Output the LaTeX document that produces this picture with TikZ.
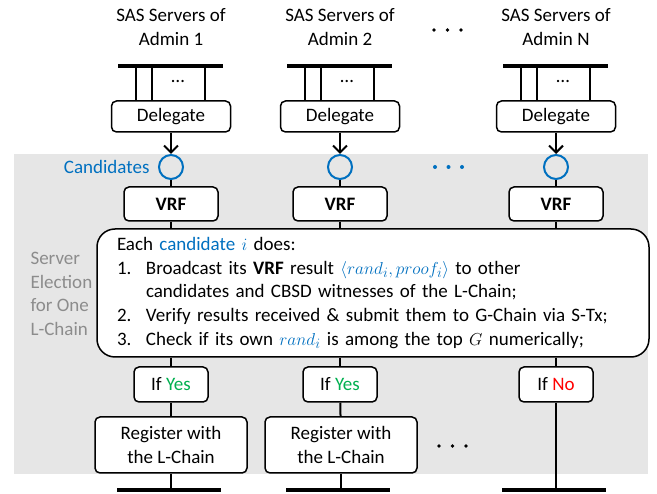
\documentclass[tikz,border=0pt]{standalone}
\usepackage{fontspec}
\setmainfont{Carlito}
\usepackage{amsmath}
\usetikzlibrary{
  positioning,
  arrows.meta
}
\definecolor{candblue}{RGB}{0,112,192}
\definecolor{yesgreen}{RGB}{0,176,80}
\definecolor{nored}{RGB}{255,0,0}
\definecolor{bggray}{RGB}{230,230,230}
\definecolor{sidegray}{RGB}{140,140,140}

\begin{document}
\begin{tikzpicture}[x=1pt, y=-1pt,
  every node/.style = {font=\fontsize{19}{23.7}\selectfont},
  box/.style = {shape=rectangle, rounded corners=5pt, draw,
    line width=1.5pt, fill=white, inner sep=0pt, align=center},
  bus/.style = {line width=4pt},
  wire/.style = {line width=2pt},
  cand/.style = {shape=circle, draw=candblue, line width=2pt,
    minimum size=24pt, inner sep=0pt}]
  \useasboundingbox (0,0) rectangle (657,494);
  \fill[bggray] (14,154) rectangle (648,474);

  % election box
  \node[box, rounded corners=18pt, minimum width=552pt, minimum height=128pt,
    text width=512pt, inner xsep=20pt, align=left] (elect) at (373,293)
    {Each \textcolor{candblue}{candidate $i$} does:\\
     \makebox[29pt][l]{1.}Broadcast its \textbf{VRF} result
       \textcolor{candblue}{$\langle rand_i, proof_i\rangle$} to other\\
     \hspace*{29pt}candidates and CBSD witnesses of the L-Chain;\\
     \makebox[29pt][l]{2.}Verify results received \& submit them to G-Chain via S-Tx;\\
     \makebox[29pt][l]{3.}Check if its own \textcolor{candblue}{$rand_i$} is among the top $G$ numerically;};
  \node[text=sidegray, align=left, anchor=west] (side) at (27,294)
    {Server\\Election\\for One\\L-Chain};

  % admins
  \foreach \n/\x/\a in {1/171/1, 2/340/2, 3/556/N} {
    \node[align=center] (sas\n) at (\x,27) {SAS Servers of\\Admin \a};
    \coordinate (bus\n) at (\x,66);
    \node[box, minimum width=119pt, minimum height=31pt] (del\n) at (\x,116.5) {Delegate};
    \draw[bus] ([xshift=-53pt]bus\n) -- ([xshift=52pt]bus\n);
    \foreach \d in {-35,-19,34}
      \draw[wire] ([xshift=\d pt]bus\n) -- ([xshift=\d pt]bus\n |- del\n.north);
    \node (more\n) at (\x+7,82) {…};
    \node[cand] (cand\n) at (\x,167) {};
    \node[box, minimum width=94pt, minimum height=34pt] (vrf\n) at (\x,204) {\textbf{VRF}};
    \draw[wire, -{Straight Barb[length=7pt, width=14pt]}] (del\n) -- (cand\n);
    \draw[wire] (cand\n) -- (vrf\n);
    \draw[wire] (vrf\n) -- (vrf\n |- elect.north);
    \coordinate (base\n) at (\x,490);
    \draw[bus] ([xshift=-54pt]base\n) -- ([xshift=50pt]base\n);
  }
  \node[text=candblue, left=5pt of cand1] (candlbl) {Candidates};
  \foreach \d in {434,447.5,461} {
    \fill (\d,30) circle (1.8pt);
    \fill[candblue] (\d+1,167) circle (2pt);
    \fill (\d+5,446) circle (1.8pt);
  }

  % outcomes
  \node[box, minimum width=74pt, minimum height=35pt] (if1) at (171,384.5) {If \textcolor{yesgreen}{Yes}};
  \node[box, minimum width=74pt, minimum height=35pt] (if2) at (340,384.5) {If \textcolor{yesgreen}{Yes}};
  \node[box, minimum width=74pt, minimum height=35pt] (if3) at (556,384.5) {If \textcolor{nored}{No}};
  \node[box, minimum width=152pt, minimum height=56pt] (reg1) at (171,445) {Register with\\the L-Chain};
  \node[box, minimum width=152pt, minimum height=56pt] (reg2) at (341,445) {Register with\\the L-Chain};
  \foreach \n in {1,2,3}
    \draw[wire] (elect.south -| if\n) -- (if\n);
  \draw[wire] (if1) -- (reg1);
  \draw[wire] (if2) -- (reg2);
  \draw[wire] (reg1) -- (base1);
  \draw[wire] (reg2) -- (reg2 |- base2);
  \draw[wire] (if3) -- (base3);
\end{tikzpicture}
\end{document}
